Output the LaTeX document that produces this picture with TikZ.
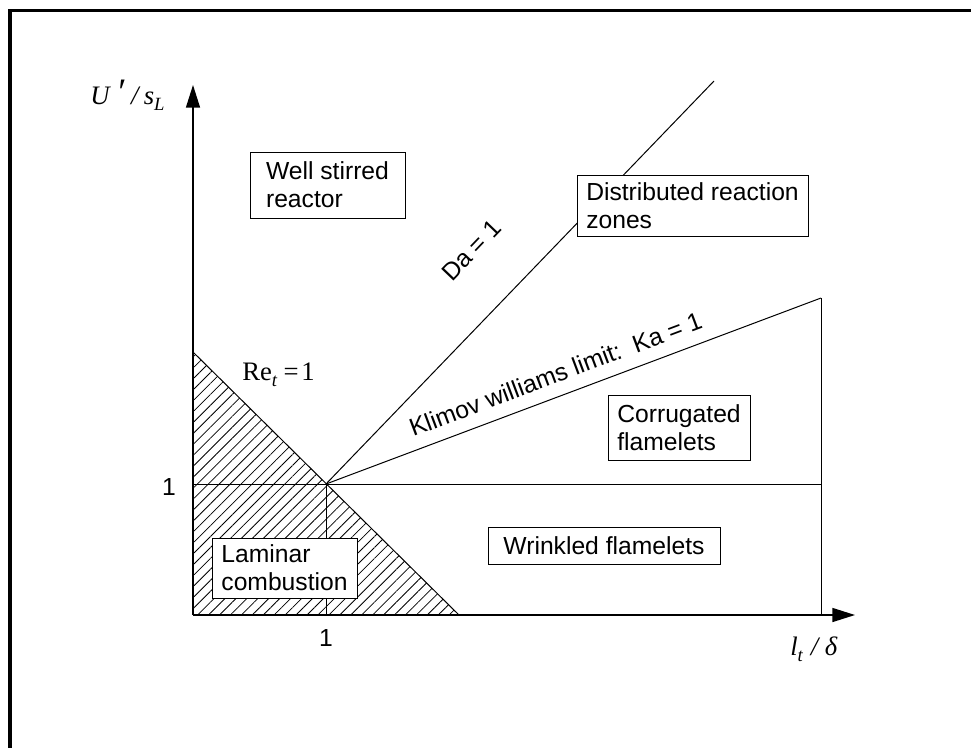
\documentclass[tikz,border=0pt]{standalone}
\usepackage{fontspec}
\setmainfont{Liberation Sans}
\newfontfamily\seriffam{Liberation Serif}
\usetikzlibrary{arrows.meta,patterns.meta}
\begin{document}
\begin{tikzpicture}[x=0.75pt,y=-0.75pt,
  regime/.style={draw,fill=white,line width=0.75pt,align=left,inner sep=0pt,
    font=\fontsize{18.5}{21}\selectfont},
  thinline/.style={line width=0.75pt},
  axis/.style={line width=1.1pt,-{Triangle[length=17pt,width=10.5pt]}},
  hatch/.style={pattern={Lines[angle=45,distance=5.8pt,line width=0.6pt]}},
  axlabel/.style={font=\seriffam\fontsize{20}{24}\selectfont,inner sep=0pt},
  sflabel/.style={font=\fontsize{18.5}{21}\selectfont,inner sep=0pt},
  ]
\useasboundingbox (0,0) rectangle (971,747);

% outer frame
\draw[line width=2.6pt] (10,770) -- (10,10.5) -- (990,10.5);

% key points of the regime diagram
\coordinate (O) at (193,615);
\coordinate (P) at (326,484);
\coordinate (Ytip) at (193,85);
\coordinate (Xtip) at (855,615);
\coordinate (ReTop) at (193,352);
\coordinate (ReBot) at (459,615);
\coordinate (DaEnd) at (714,81);
\coordinate (KaEnd) at (821,298);
\coordinate (Rbot) at (821,615);
\coordinate (Rmid) at (821,484);
\coordinate (Pbot) at (326,615);
\coordinate (Yone) at (193,484);

% laminar region (Re_t < 1)
\path[hatch] (ReTop) -- (O) -- (ReBot) -- cycle;
\draw[thinline] (ReTop) -- (ReBot);

% regime boundaries
\draw[thinline] (Yone) -- (Rmid);
\draw[thinline] (P) -- (Pbot);
\draw[thinline] (KaEnd) -- (Rbot);
\draw[thinline] (P) -- (DaEnd);
\draw[thinline] (P) -- (KaEnd);

% axes
\draw[axis] (O) -- (Ytip);
\draw[axis] (O) -- (Xtip);

% axis labels
\node[axlabel,anchor=base west] (ylab) at (90,104)
  {\itshape U\hspace{5pt}{\fontsize{28}{28}\selectfont ′}\hspace{5pt}/\hspace{4pt}s\raisebox{-5pt}{\fontsize{14}{16}\selectfont L}};
\node[axlabel,anchor=base west] (xlab) at (790,655)
  {\itshape l\raisebox{-5pt}{\fontsize{14}{16}\selectfont t}\hspace{6pt}/\hspace{5pt}δ};
\node[sflabel] (yone) at (169,487) {1};
\node[sflabel] (xone) at (326,638) {1};
\node[axlabel,anchor=base west] (relab) at (242,380)
  {Re\raisebox{-5pt}{\fontsize{14}{16}\selectfont\itshape t}\hspace{5pt}=\hspace{2pt}1};

% boundary labels
\node[sflabel,anchor=base west,rotate=46.2] (dalab) at (452,283) {Da = 1};
\node[sflabel,anchor=base west,rotate=20.6] (kalab) at (413,437)
  {Klimov williams limit:~~Ka = 1};

% regime boxes
\node[regime,minimum width=116.25pt,minimum height=49.5pt] (wsr) at (327.5,185)
  {Well stirred\\reactor};
\node[regime,minimum width=173.25pt,minimum height=45.75pt] (drz) at (692.5,205.5)
  {Distributed reaction\\zones};
\node[regime,minimum width=106.5pt,minimum height=48.75pt] (cf) at (679,427.5)
  {Corrugated\\flamelets};
\node[regime,minimum width=174pt,minimum height=27.75pt] (wf) at (604,545.5)
  {Wrinkled flamelets};
\node[regime,minimum width=108.75pt,minimum height=45pt] (lam) at (284.5,568)
  {Laminar\\combustion};
\end{tikzpicture}
\end{document}
